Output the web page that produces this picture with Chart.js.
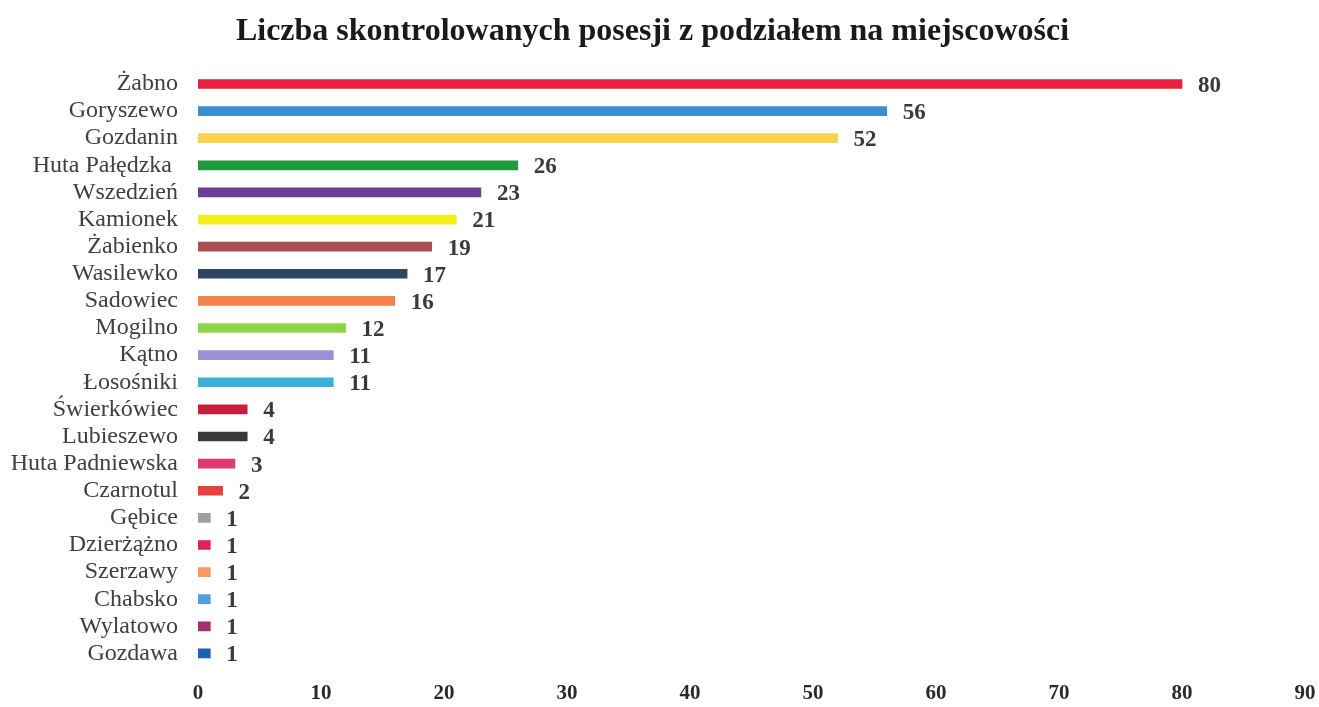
<!DOCTYPE html>
<html>
<head>
<meta charset="utf-8">
<script src="https://cdn.jsdelivr.net/npm/chart.js@4/dist/chart.umd.min.js"></script>
<style>
html,body{margin:0;padding:0;background:#fff;overflow:hidden;}
#wrap{width:1319px;height:707px;position:relative;}
</style>
</head>
<body>
<div id="wrap"><canvas id="c" width="1319" height="707"></canvas></div>
<script>
const categories = ["Żabno","Goryszewo","Gozdanin","Huta Pałędzka ","Wszedzień","Kamionek","Żabienko","Wasilewko","Sadowiec","Mogilno","Kątno","Łosośniki","Świerkówiec","Lubieszewo","Huta Padniewska","Czarnotul","Gębice","Dzierżążno","Szerzawy","Chabsko","Wylatowo","Gozdawa"];
const values = [80,56,52,26,23,21,19,17,16,12,11,11,4,4,3,2,1,1,1,1,1,1];
const barColors = ["#e8203e","#3b8fd0","#f9d34a","#1f9a3e","#6a3d9a","#f5ee1f","#a85050","#2e4660","#f5834a","#8cd44a","#9b8fd8","#3ab0d8","#c8203a","#3a3a3a","#e03a70","#e84040","#a0a0a0","#e02050","#f89a60","#50a0e0","#a03070","#2060b0"];
const xTicks = [0,10,20,30,40,50,60,70,80,90];
const titleText = "Liczba skontrolowanych posesji z podziałem na miejscowości";

const SERIF = '"Liberation Serif", "Times New Roman", serif';

const valueLabels = {
  id: 'valueLabels',
  afterDatasetsDraw(chart) {
    const ctx = chart.ctx;
    const meta = chart.getDatasetMeta(0);
    ctx.save();
    ctx.font = 'bold 23px ' + SERIF;
    ctx.fillStyle = '#3a3a3a';
    ctx.textAlign = 'left';
    ctx.textBaseline = 'middle';
    meta.data.forEach((el, i) => {
      ctx.fillText(String(chart.data.datasets[0].data[i]), el.x + 16, el.y + 2);
    });
    ctx.restore();
  }
};

new Chart(document.getElementById('c'), {
  type: 'bar',
  data: {
    labels: categories,
    datasets: [{
      data: values,
      backgroundColor: barColors,
      barThickness: 9,
      borderWidth: 0
    }]
  },
  options: {
    indexAxis: 'y',
    responsive: false,
    animation: false,
    layout: { padding: { left: 0, right: 14, top: 0, bottom: 0 } },
    plugins: {
      legend: { display: false },
      tooltip: { enabled: false },
      title: {
        display: true,
        text: titleText,
        color: '#1a1a1a',
        font: { family: SERIF, size: 32, weight: 'bold' },
        padding: { top: 13, bottom: 19 }
      }
    },
    scales: {
      x: {
        min: 0, max: 90,
        afterBuildTicks(axis) { axis.ticks = xTicks.map(v => ({ value: v })); },
        afterFit(axis) { axis.height = 40; axis.paddingLeft = 0; axis.paddingRight = 0; },
        grid: { display: false },
        border: { display: false },
        ticks: {
          color: '#2a2a2a',
          padding: 6,
          maxRotation: 0,
          font: { family: SERIF, size: 21, weight: 'bold' }
        }
      },
      y: {
        afterFit(axis) { axis.width = 198; axis.paddingTop = 0; axis.paddingBottom = 0; },
        grid: { display: false, drawTicks: false },
        border: { display: false },
        ticks: {
          color: '#404040',
          padding: 20,
          autoSkip: false,
          font: { family: SERIF, size: 24 }
        }
      }
    }
  },
  plugins: [valueLabels]
});
</script>
</body>
</html>
